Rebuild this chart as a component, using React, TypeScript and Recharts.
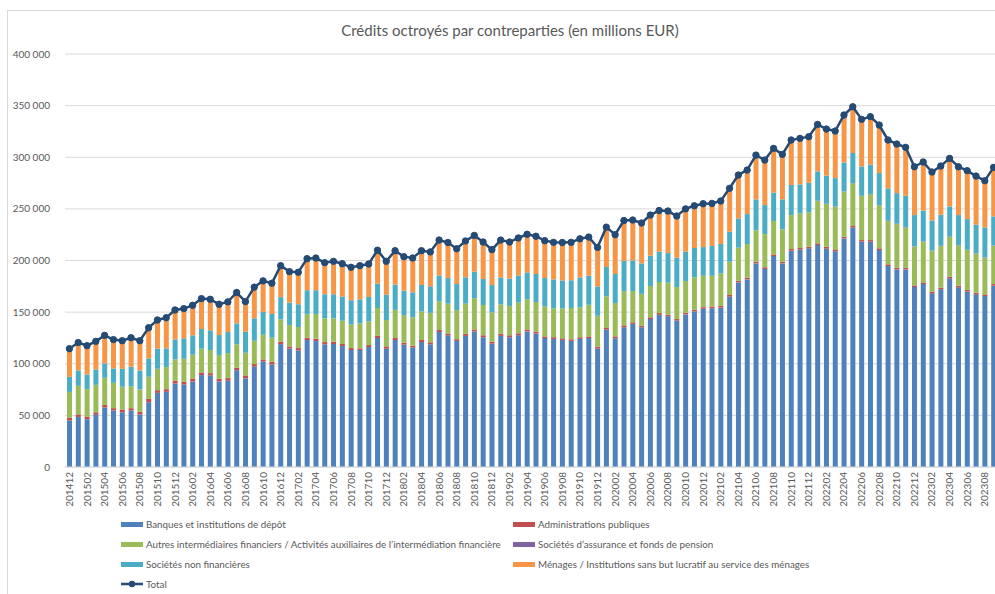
import { Bar, ComposedChart, Line, XAxis, YAxis, CartesianGrid } from "recharts"

const months = [
  "201412",
  "201501", "201502", "201503", "201504", "201505", "201506", "201507", "201508", "201509", "201510", "201511", "201512",
  "201601", "201602", "201603", "201604", "201605", "201606", "201607", "201608", "201609", "201610", "201611", "201612",
  "201701", "201702", "201703", "201704", "201705", "201706", "201707", "201708", "201709", "201710", "201711", "201712",
  "201801", "201802", "201803", "201804", "201805", "201806", "201807", "201808", "201809", "201810", "201811", "201812",
  "201901", "201902", "201903", "201904", "201905", "201906", "201907", "201908", "201909", "201910", "201911", "201912",
  "202001", "202002", "202003", "202004", "202005", "202006", "202007", "202008", "202009", "202010", "202011", "202012",
  "202101", "202102", "202103", "202104", "202105", "202106", "202107", "202108", "202109", "202110", "202111", "202112",
  "202201", "202202", "202203", "202204", "202205", "202206", "202207", "202208", "202209", "202210", "202211", "202212",
  "202301", "202302", "202303", "202304", "202305", "202306", "202307", "202308", "202309",
]

// montants en millions EUR
const banques = [
  45000, 48500, 46300, 50500, 57600, 54700, 53000, 54700, 50800, 62800, 71800, 72800, 80900,
  79900, 82800, 89000, 88700, 82800, 83500, 93800, 85800, 97100, 102300, 99300, 119000,
  114600, 112900, 123000, 122000, 118800, 119100, 117100, 113300, 113300, 116200, 124900, 114500,
  123000, 118500, 115700, 121000, 118800, 130700, 127500, 122000, 127000, 131200, 125700, 119500,
  127000, 125700, 127500, 131300, 129300, 124900, 123900, 123100, 122100, 124100, 124900, 114700,
  133000, 124700, 135400, 138600, 135400, 143300, 147400, 146000, 141700, 147800, 150600, 153200,
  153800, 154300, 164900, 178800, 181700, 197200, 191700, 204300, 197200, 209500, 210500, 211800,
  215000, 211400, 208900, 221400, 231800, 218200, 218200, 210100, 194600, 191400, 191400, 174300,
  177200, 168200, 172100, 182700, 174000, 169800, 167200, 165600, 175600,
]

const administrations = [
  3000, 2500, 2600, 2500, 2600, 2300, 2700, 2300, 2600, 3200, 2600, 2600, 2600,
  2600, 3000, 2600, 2200, 2600, 2600, 2300, 2900, 2600, 1900, 2600, 2400,
  2200, 2300, 2200, 2300, 2200, 2300, 2000, 1900, 1600, 1900, 2100, 2300,
  2000, 1900, 1900, 2000, 2000, 2000, 1800, 1800, 2000, 2000, 1900, 1900,
  2000, 1900, 2000, 2000, 1700, 1600, 1800, 1600, 1600, 1600, 1600, 1800,
  1600, 1800, 1800, 1600, 1600, 1700, 1700, 1500, 1600, 1700, 1700, 1600,
  1600, 1600, 1700, 1600, 1700, 1600, 1700, 1600, 1600, 1600, 1600, 1600,
  1600, 2000, 1900, 1600, 1600, 1600, 1600, 1700, 1700, 1600, 1600, 1600,
  1600, 1600, 1600, 1600, 1600, 1600, 1600, 1600, 1600,
]

const autresIntermediaires = [
  24700, 27600, 26500, 26600, 26200, 24500, 22000, 21300, 21700, 21400, 20700, 21400, 20700,
  22300, 22900, 23000, 22400, 23000, 24200, 22700, 22000, 22600, 23900, 23300, 21600,
  20700, 20400, 22700, 23900, 23000, 22600, 22600, 22700, 24200, 23000, 27000, 25500,
  27200, 26700, 27400, 27700, 28500, 27600, 28900, 28200, 29200, 30300, 29300, 28400,
  28500, 28400, 29700, 29200, 28800, 29100, 28100, 28800, 30300, 28900, 30600, 30000,
  30700, 32300, 33200, 30200, 30700, 30300, 30100, 31000, 31000, 30600, 31400, 30400,
  29800, 31600, 32200, 32000, 32600, 30400, 32200, 32300, 31400, 32900, 33500, 33200,
  41000, 41300, 41300, 43600, 41300, 42600, 44200, 41600, 41900, 42300, 39100, 37500,
  39400, 39700, 40300, 38400, 39100, 38700, 37800, 35500, 37100,
]

const assurances = [
  0, 0, 0, 0, 0, 0, 0, 0, 0, 0, 0, 0, 0,
  0, 0, 0, 0, 0, 0, 0, 0, 0, 0, 0, 0,
  0, 0, 0, 0, 0, 0, 0, 0, 0, 0, 0, 0,
  0, 0, 0, 0, 0, 0, 0, 0, 0, 0, 0, 0,
  0, 0, 0, 0, 0, 0, 0, 0, 0, 0, 0, 0,
  0, 0, 0, 0, 0, 0, 0, 0, 0, 0, 0, 0,
  0, 0, 0, 0, 0, 0, 0, 0, 0, 0, 0, 0,
  300, 300, 300, 300, 300, 300, 300, 300, 300, 300, 300, 300,
  300, 300, 300, 300, 300, 300, 300, 300, 300,
]

const societesNonFin = [
  14600, 14900, 14200, 14900, 13900, 14000, 17400, 18800, 18400, 17800, 19500, 18100, 19400,
  19800, 18800, 19000, 19100, 19400, 20400, 20300, 20300, 21700, 22100, 23000, 21500,
  21700, 22000, 23300, 23000, 23300, 23300, 23300, 23600, 23300, 23600, 23500, 24500,
  24400, 23700, 24200, 25600, 25700, 25200, 24800, 25200, 25500, 25700, 25200, 26400,
  25900, 26400, 26300, 26000, 27100, 27400, 27900, 27200, 26900, 28900, 28200, 28400,
  28400, 28100, 29200, 29700, 29500, 29400, 29300, 28700, 28400, 28400, 28400, 27800,
  28900, 28500, 29100, 28400, 29000, 30000, 28100, 27500, 29000, 29100, 28100, 28700,
  28400, 27100, 27400, 28100, 29100, 28400, 28500, 31000, 31300, 29700, 30300, 30300,
  29700, 29000, 30000, 29400, 29000, 29700, 27800, 29100, 28100,
]

const menages = [
  27300, 27000, 27900, 27200, 27200, 27900, 27200, 28100, 28800, 29700, 27800, 29700, 28500,
  28800, 29100, 29500, 30000, 29800, 29200, 29900, 29200, 30200, 30100, 29800, 30500,
  30000, 31000, 30600, 31200, 30600, 31900, 31900, 31900, 32600, 31900, 32500, 32400,
  32900, 32900, 33200, 33200, 33300, 34300, 34400, 34200, 35200, 35100, 35800, 34300,
  36400, 35500, 36300, 36900, 36600, 36200, 35900, 36700, 36700, 37500, 37400, 37800,
  38600, 38100, 39100, 39100, 39100, 39300, 39900, 40700, 40400, 41500, 40900, 42000,
  41200, 41600, 42000, 42000, 42600, 42900, 43600, 42900, 43600, 43600, 44600, 44600,
  45800, 45500, 45900, 46200, 45100, 45900, 46800, 46800, 47200, 47800, 47200, 47100,
  47500, 47200, 47500, 46800, 47100, 47200, 47400, 45500, 47800,
]

const total = [
  114600, 120500, 117500, 121700, 127500, 123400, 122300, 125200, 122300, 134900, 142400, 144600, 152100,
  153400, 156600, 163100, 162400, 157600, 159900, 169000, 160200, 174200, 180300, 178000, 195000,
  189200, 188600, 201800, 202400, 197900, 199200, 196900, 193400, 195000, 196600, 210000, 199200,
  209500, 203700, 202400, 209500, 208300, 219800, 217400, 211400, 218900, 224300, 217900, 210500,
  219800, 217900, 221800, 225400, 223500, 219200, 217600, 217400, 217600, 221000, 222700, 212700,
  232300, 225000, 238700, 239200, 236300, 244000, 248400, 247900, 243100, 250000, 253000, 255000,
  255300, 257600, 269900, 282800, 287600, 302100, 297300, 308600, 302800, 316700, 318300, 319900,
  331800, 327300, 325400, 340900, 348900, 336700, 339300, 331200, 316700, 312800, 309600, 290800,
  295400, 285700, 291500, 298900, 290800, 287000, 281800, 277300, 290200,
]

const yTicks = [0, 50000, 100000, 150000, 200000, 250000, 300000, 350000, 400000]

const series = [
  { key: "banques", name: "Banques et institutions de dépôt", color: "#4F81BD" },
  { key: "administrations", name: "Administrations publiques", color: "#C0504D" },
  { key: "autres", name: "Autres intermédiaires financiers / Activités auxiliaires de l’intermédiation financière", color: "#9BBB59" },
  { key: "assurances", name: "Sociétés d’assurance et fonds de pension", color: "#8064A2" },
  { key: "snf", name: "Sociétés non financières", color: "#4BACC6" },
  { key: "menages", name: "Ménages / Institutions sans but lucratif au service des ménages", color: "#F79646" },
]

const data = months.map((m, i) => ({
  month: m,
  banques: banques[i],
  administrations: administrations[i],
  autres: autresIntermediaires[i],
  assurances: assurances[i],
  snf: societesNonFin[i],
  menages: menages[i],
  total: total[i],
}))

const TEXT = "#595959"
const FONT = "Lato, 'Liberation Sans', sans-serif"

const fmt = (v: number) => v.toLocaleString("en-US").replace(/,/g, " ")

function MonthTick({ x, y, payload }: any) {
  return (
    <text x={x} y={y} dy={3.5} textAnchor="end" transform={`rotate(-90 ${x} ${y})`} fontSize={10} fill={TEXT} fontFamily={FONT}>
      {payload.value}
    </text>
  )
}

function ValueTick({ x, y, payload }: any) {
  return (
    <text x={x} y={y} dy={3.5} textAnchor="end" fontSize={10} fill={TEXT} fontFamily={FONT}>
      {fmt(payload.value)}
    </text>
  )
}

const legendPos = [
  { left: 121, top: 524 },
  { left: 513, top: 524 },
  { left: 121, top: 544 },
  { left: 513, top: 544 },
  { left: 121, top: 564 },
  { left: 513, top: 564 },
]

export default function App() {
  return (
    <div style={{ position: "fixed", left: 0, top: 0, width: 995, height: 594, overflow: "hidden", background: "#fff", fontFamily: FONT }}>
      <div style={{ position: "absolute", left: 7, top: 10, width: 1000, height: 600, border: "1px solid #d9d9d9" }} />
      <div style={{ position: "absolute", left: 0, top: 21, width: 1020, textAlign: "center", fontSize: 15, color: TEXT }}>
        Crédits octroyés par contreparties (en millions EUR)
      </div>
      <div style={{ position: "absolute", left: 0, top: 0 }}>
        <ComposedChart width={998} height={517} data={data} margin={{ top: 54, right: 0, bottom: 0, left: 13 }}>
          <CartesianGrid vertical={false} stroke="#d9d9d9" />
          <XAxis
            dataKey="month"
            interval={1}
            tickLine={false}
            tickSize={0}
            tickMargin={5}
            height={50}
            axisLine={{ stroke: "#d9d9d9" }}
            tick={<MonthTick />}
          />
          <YAxis
            width={52}
            domain={[0, 400000]}
            ticks={yTicks}
            axisLine={false}
            tickLine={false}
            tickSize={0}
            tickMargin={15}
            tick={<ValueTick />}
          />
          {series.map((s) => (
            <Bar key={s.key} dataKey={s.key} name={s.name} stackId="a" fill={s.color} barSize={5} isAnimationActive={false} />
          ))}
          <Line
            type="linear"
            dataKey="total"
            name="Total"
            stroke="#254A74"
            strokeWidth={2.5}
            dot={{ r: 3.2, fill: "#254A74", stroke: "#254A74", strokeWidth: 1 }}
            isAnimationActive={false}
          />
        </ComposedChart>
      </div>
      {series.map((s, i) => (
        <div key={s.key} style={{ position: "absolute", left: legendPos[i].left, top: legendPos[i].top - 7, height: 14, display: "flex", alignItems: "center", fontSize: 9.8, color: TEXT, whiteSpace: "nowrap" }}>
          <span style={{ display: "inline-block", width: 22, height: 5, background: s.color, marginRight: 3 }} />
          {s.name}
        </div>
      ))}
      <div style={{ position: "absolute", left: 121, top: 577, height: 14, display: "flex", alignItems: "center", fontSize: 9.8, color: TEXT }}>
        <svg width={22} height={10} style={{ marginRight: 3 }}>
          <line x1={0} y1={5} x2={22} y2={5} stroke="#254A74" strokeWidth={2.5} />
          <circle cx={11} cy={5} r={3.2} fill="#254A74" />
        </svg>
        Total
      </div>
    </div>
  )
}
